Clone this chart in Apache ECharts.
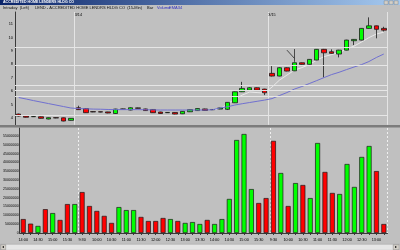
<!DOCTYPE html>
<html><head><meta charset="utf-8">
<script src="https://cdn.jsdelivr.net/npm/echarts@6/dist/echarts.min.js"></script>
<style>html,body{margin:0;padding:0;background:#c0c0c0}#c{width:400px;height:250px}</style>
</head><body><div id="c"></div>
<script>
const times = ['14:00','14:15','14:30','14:45','15:00','15:15','15:30','15:45',
 '9:30','9:45','10:00','10:15','10:30','10:45','11:00','11:15','11:30','11:45','12:00','12:15','12:30','12:45','13:00','13:15','13:30','13:45','14:00','14:15','14:30','14:45','15:00','15:15','15:30','15:45',
 '9:30','9:45','10:00','10:15','10:30','10:45','11:00','11:15','11:30','11:45','12:00','12:15','12:30','12:45','13:00','13:15'];
const dayStartIdx = [8, 34];
const dayLabels = ['3/14', '3/15'];
const openP = [4.30,4.15,4.10,4.10,3.93,4.03,4.02,3.83,4.77,4.71,4.48,4.47,4.46,4.34,4.66,4.60,4.76,4.68,4.64,4.45,4.40,4.42,4.32,4.47,4.56,4.68,4.62,4.67,4.65,5.14,5.96,6.09,6.26,6.16,7.33,7.13,7.75,7.52,8.12,8.00,8.32,9.12,8.94,8.77,9.06,9.76,9.81,10.68,10.87,10.68];
const closeP = [4.15,4.06,4.12,3.98,4.03,4.01,3.78,3.98,4.63,4.40,4.46,4.45,4.38,4.67,4.68,4.77,4.73,4.56,4.40,4.34,4.42,4.30,4.50,4.63,4.71,4.57,4.64,4.75,5.17,5.96,6.21,6.26,6.09,5.88,7.13,7.75,7.50,8.12,8.00,8.37,9.12,8.86,8.82,9.06,9.81,9.86,10.68,10.87,10.61,10.55];
const lowP = [4.12,4.04,4.08,3.96,3.91,3.99,3.76,3.81,4.61,4.38,4.44,4.43,4.36,4.32,4.64,4.58,4.71,4.54,4.38,4.32,4.38,4.28,4.30,4.45,4.54,4.55,4.60,4.65,4.60,5.12,5.94,6.05,6.07,5.71,7.10,7.11,7.48,7.50,7.98,7.98,8.30,7.03,8.80,8.52,9.04,9.44,9.79,10.66,9.94,10.45];
const highP = [4.33,4.17,4.14,4.12,4.05,4.05,4.04,4.00,4.92,4.73,4.50,4.48,4.47,4.69,4.70,4.80,4.78,4.70,4.66,4.47,4.44,4.44,4.52,4.65,4.73,4.70,4.66,4.77,5.19,5.98,6.70,6.30,6.28,6.18,7.87,7.78,7.78,8.14,8.14,8.39,9.14,9.15,9.12,9.08,9.83,9.88,10.70,11.50,10.89,10.80];
const ema34 = [5.53,5.42,5.30,5.19,5.08,4.97,4.86,4.75,4.71,4.69,4.67,4.66,4.64,4.63,4.63,4.63,4.63,4.62,4.61,4.60,4.60,4.60,4.60,4.60,4.60,4.60,4.62,4.75,4.84,4.97,5.07,5.16,5.25,5.34,5.45,5.68,5.90,6.16,6.35,6.57,6.79,7.02,7.24,7.41,7.61,7.80,7.98,8.21,8.51,8.77];
const fastLine = [null,null,null,null,null,null,null,null,null,null,null,null,null,null,null,null,null,null,null,null,null,null,null,null,null,null,4.62,4.67,5.04,5.42,5.71,5.94,5.90,5.86,6.31,6.83,7.20,7.57,7.76,7.98,8.32,8.58,8.73,8.88,9.14,9.36,9.66,9.99,10.26,10.40];
const volumeM = [7.9,5.3,4.0,13.5,11.3,7.4,16.4,16.4,23.2,15.3,12.5,9.7,5.7,14.7,13.0,13.0,9.1,6.8,6.8,8.5,7.9,6.8,5.7,6.2,5.1,
 7.4,5.1,7.9,19.3,52.7,56.1,24.9,17.0,19.8,52.2,34.0,15.3,28.3,27.2,19.8,51.0,34.6,22.7,22.1,39.1,26.1,43.1,49.3,35.1,5.1];
const priceLevels = [9.31, 7.90, 6.46, 6.09, 5.59, 4.22];
const annotations = [[[36, 9.06],[37, 8.45]], [[37, 9.14],[37, 8.19]]];

const UP = '#00ff00', DOWN = '#ff0000', EDGE = '#1a1a1a';
const ohlc = openP.map((o,i)=>[o, closeP[i], lowP[i], highP[i]]);
const isUp = openP.map((o,i)=>closeP[i] >= o);
const FONT = 'Liberation Sans, Arial, sans-serif';

const chart = echarts.init(document.getElementById('c'), null, {renderer:'canvas'});
const gridL = 15, gridW = 372.5;
const dayLine = (idx)=>dayStartIdx.includes(idx);

const option = {
  backgroundColor: '#c0c0c0',
  animation: false,
  grid: [
    {left: gridL, top: 12, width: gridW, height: 112.8},
    {left: gridL, top: 128, width: gridW, height: 105}
  ],
  xAxis: [
    {type:'category', gridIndex:0, data: times, boundaryGap:true,
     axisLine:{show:false}, axisTick:{show:false}, axisLabel:{show:false},
     splitLine:{show:true, interval:(i)=>dayLine(i), lineStyle:{color:'#e4e4e4', width:1}}},
    {type:'category', gridIndex:1, data: times, boundaryGap:true,
     axisLine:{show:true, lineStyle:{color:'#3a3a3a', width:1}},
     axisTick:{show:true, interval:0, alignWithLabel:true, length:2, lineStyle:{color:'#3a3a3a'}},
     axisLabel:{show:true, interval:1, fontSize:3.8, color:'#000', margin:5, fontFamily:FONT},
     splitLine:{show:true, interval:(i)=>dayLine(i), lineStyle:{color:'#f0f0f0', width:1, type:[2,2]}}},
    {type:'category', gridIndex:0, data: times, position:'top', boundaryGap:true,
     axisLine:{show:false}, axisTick:{show:false}, splitLine:{show:false},
     axisLabel:{show:true, inside:true, interval:0, fontSize:3.8, color:'#000', margin:1, fontFamily:FONT,
       formatter:(v,i)=>{const k = dayStartIdx.indexOf(i); return k>=0 ? dayLabels[k] : '';}}}
  ],
  yAxis: [
    {type:'value', gridIndex:0, min:3.5, max:11.9, interval:0.5,
     axisLine:{show:true, lineStyle:{color:'#3a3a3a', width:1}}, axisTick:{show:false}, splitLine:{show:false},
     axisLabel:{fontSize:4, color:'#000', margin:2, fontFamily:FONT, showMaxLabel:false,
       formatter:(v)=> (Math.abs(v - Math.round(v)) < 1e-6) ? String(Math.round(v)) : ''}},
    {type:'value', gridIndex:1, min:0, max:59.5e6, interval:5e6,
     axisLine:{show:true, lineStyle:{color:'#3a3a3a', width:1}}, axisTick:{show:false}, splitLine:{show:false},
     axisLabel:{fontSize:3.5, color:'#000', margin:1, fontFamily:FONT, showMaxLabel:false,
       formatter:(v)=> (v % 5e6 === 0) ? String(v) : ''}}
  ],
  series: [
    {type:'candlestick', xAxisIndex:0, yAxisIndex:0, data: ohlc, barWidth:5,
     itemStyle:{color:UP, color0:DOWN, borderColor:EDGE, borderColor0:EDGE, borderWidth:0.8},
     markLine:{silent:true, symbol:['none','none'], label:{show:false},
       data: priceLevels.map(v=>({yAxis:v, lineStyle:{color:'#e6e6e6', width:1, type:'solid'}}))
         .concat(annotations.map(a=>[{coord:a[0], lineStyle:{color:'#2a2a2a', width:0.8, type:'solid'}},{coord:a[1]}]))
     }, z:3},
    {type:'line', xAxisIndex:0, yAxisIndex:0, data: ema34, showSymbol:false, smooth:false,
     lineStyle:{color:'#7070d0', width:1}, z:4},
    {type:'line', xAxisIndex:0, yAxisIndex:0, data: fastLine, showSymbol:false, smooth:false, connectNulls:false,
     lineStyle:{color:'#f2f2f2', width:0.8}, z:2},
    {type:'bar', xAxisIndex:1, yAxisIndex:1, data: volumeM.map(v=>v*1e6), barWidth:5,
     itemStyle:{color:(p)=> isUp[p.dataIndex] ? UP : DOWN, borderColor:EDGE, borderWidth:0.7}}
  ],
  graphic: [
    {type:'rect', left:0, top:0, shape:{width:400, height:5}, z:100,
     style:{fill:new echarts.graphic.LinearGradient(0,0,1,0,[{offset:0,color:'#0a246a'},{offset:1,color:'#a6caf0'}])}},
    {type:'text', left:3, top:0.3, z:101, style:{text:'ACCREDITED HOME LENDERS HLDG CO', fill:'#ffffff', font:'bold 3.6px '+FONT}},
    {type:'rect', left:384, top:0.6, shape:{width:4, height:3.6}, z:101, style:{fill:'#d4d0c8', stroke:'#555', lineWidth:0.3}},
    {type:'rect', left:389, top:0.6, shape:{width:4, height:3.6}, z:101, style:{fill:'#d4d0c8', stroke:'#555', lineWidth:0.3}},
    {type:'rect', left:394, top:0.6, shape:{width:4, height:3.6}, z:101, style:{fill:'#d4d0c8', stroke:'#555', lineWidth:0.3}},
    {type:'text', left:3, top:6, z:101, style:{text:'Intraday  (Left)', fill:'#111', font:'4px '+FONT}},
    {type:'text', left:35, top:6, z:101, style:{text:'LEND - ACCREDITED HOME LENDRS HLDG CO  (15-Min)', fill:'#111', font:'4px '+FONT}},
    {type:'text', left:147, top:6, z:101, style:{text:'Bar', fill:'#111', font:'4px '+FONT}},
    {type:'text', left:157, top:6, z:101, style:{text:'Volume', fill:'#3030c0', font:'4px '+FONT}},
    {type:'text', left:169, top:6, z:101, style:{text:'EMA34', fill:'#3030c0', font:'4px '+FONT}},
    {type:'rect', left:0, top:125, shape:{width:400, height:2.6}, z:100, style:{fill:'#7c7c7c'}},
    {type:'rect', left:0, top:244, shape:{width:400, height:6}, z:100, style:{fill:'#e6e6e6', stroke:'#a0a0a0', lineWidth:0.5}},
    {type:'rect', left:0.5, top:244.5, shape:{width:5, height:5}, z:101, style:{fill:'#d4d0c8', stroke:'#707070', lineWidth:0.4}},
    {type:'text', left:1.5, top:244.8, z:102, style:{text:'◂', fill:'#000', font:'4px '+FONT}},
    {type:'rect', left:393, top:244.5, shape:{width:6, height:5}, z:101, style:{fill:'#d4d0c8', stroke:'#707070', lineWidth:0.4}},
    {type:'text', left:394.5, top:244.8, z:102, style:{text:'▸', fill:'#000', font:'4px '+FONT}}
  ]
};
chart.setOption(option);
</script></body></html>
